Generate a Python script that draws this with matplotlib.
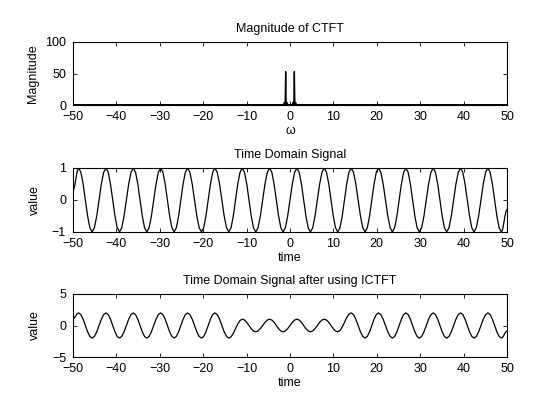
import numpy as np
import matplotlib.pyplot as plt

# top panel: |X(w)|, flat except two spikes at w = -1 and w = +1
omega = [-50, -1.5, -1.3, -1.12, -1.05, -1.0, -0.95, -0.88, -0.7, -0.5,
         0.5, 0.7, 0.88, 0.95, 1.0, 1.05, 1.12, 1.3, 1.5, 50]
magnitude = [0.5, 0.5, 4, 0.5, 30, 53, 30, 0.5, 4, 0.5,
             0.5, 4, 0.5, 30, 53, 30, 0.5, 4, 0.5, 0.5]

# middle / bottom panels: turning points of the curves (time, value)
ext_time = [-50, -48.7, -45.6, -42.4, -39.3, -36.1, -33.0, -29.8, -26.7, -23.6,
            -20.4, -17.3, -14.1, -11.0, -7.9, -4.7, -1.6, 1.6, 4.7, 7.9,
            11.0, 14.1, 17.3, 20.4, 23.6, 26.7, 29.8, 33.0, 36.1, 39.3,
            42.4, 45.6, 48.7, 50]
sig_val = [0.3, 1, -1, 1, -1, 1, -1, 1, -1, 1,
           -1, 1, -1, 1, -1, 1, -1, 1, -1, 1,
           -1, 1, -1, 1, -1, 1, -1, 1, -1, 1,
           -1, 1, -1, -0.3]
rec_val = [1.1, 2, -2, 2, -2, 2, -2, 2, -2, 2,
           -2, 2, -2, 1, -1, 1, -1, 1, -1, 1,
           -1, 2, -2, 2, -2, 2, -2, 2, -2, 2,
           -2, 2, -2, -0.9]

xticks = [-50, -40, -30, -20, -10, 0, 10, 20, 30, 40, 50]


def through_extrema(tk, vk, n=6):
    # draw each stretch between two turning points as a half cosine
    tt, vv = [], []
    for i in range(len(tk) - 1):
        s = np.linspace(0, 1, n, endpoint=False)
        tt.append(tk[i] + (tk[i + 1] - tk[i]) * s)
        vv.append(vk[i] + (vk[i + 1] - vk[i]) * (1 - np.cos(np.pi * s)) / 2)
    tt.append([tk[-1]])
    vv.append([vk[-1]])
    return np.concatenate(tt), np.concatenate(vv)


plt.rcParams['font.family'] = ['Liberation Sans', 'DejaVu Sans']
fs_tick = 9
fs_text = 9

fig = plt.figure(figsize=(5.6, 4.2), dpi=100)
fig.patch.set_facecolor('white')

W, H = 560.0, 420.0
boxes = [(42, 105), (168, 232), (294, 357)]  # top / bottom pixel rows of each axes
axes = []
for top, bot in boxes:
    ax = fig.add_axes([73 / W, 1 - bot / H, 434 / W, (bot - top) / H])
    axes.append(ax)

t_sig, v_sig = through_extrema(ext_time, sig_val)
t_rec, v_rec = through_extrema(ext_time, rec_val)

axes[0].plot(omega, magnitude, color='k', lw=1.0)
axes[0].set_ylim(0, 100)
axes[0].set_yticks([0, 50, 100])
axes[0].set_title('Magnitude of CTFT', fontsize=fs_text, pad=7)
axes[0].set_xlabel('ω', fontsize=fs_text, labelpad=2)
axes[0].set_ylabel('Magnitude', fontsize=fs_text, labelpad=4)

axes[1].plot(t_sig, v_sig, color='k', lw=0.9)
axes[1].set_ylim(-1, 1)
axes[1].set_yticks([-1, 0, 1])
axes[1].set_title('Time Domain Signal', fontsize=fs_text, pad=7)
axes[1].set_xlabel('time', fontsize=fs_text, labelpad=2)
axes[1].set_ylabel('value', fontsize=fs_text, labelpad=8)

axes[2].plot(t_rec, v_rec, color='k', lw=0.9)
axes[2].set_ylim(-5, 5)
axes[2].set_yticks([-5, 0, 5])
axes[2].set_title('Time Domain Signal after using ICTFT', fontsize=fs_text, pad=7)
axes[2].set_xlabel('time', fontsize=fs_text, labelpad=2)
axes[2].set_ylabel('value', fontsize=fs_text, labelpad=8)

for ax in axes:
    ax.set_xlim(-50, 50)
    ax.set_xticks(xticks)
    ax.tick_params(direction='in', length=3, width=0.6, top=True, right=True,
                   labelsize=fs_tick)
    ax.tick_params(axis='x', pad=4)
    ax.tick_params(axis='y', pad=5)
    for sp in ax.spines.values():
        sp.set_linewidth(0.8)

fig.savefig('out.png', dpi=100, facecolor='white')
